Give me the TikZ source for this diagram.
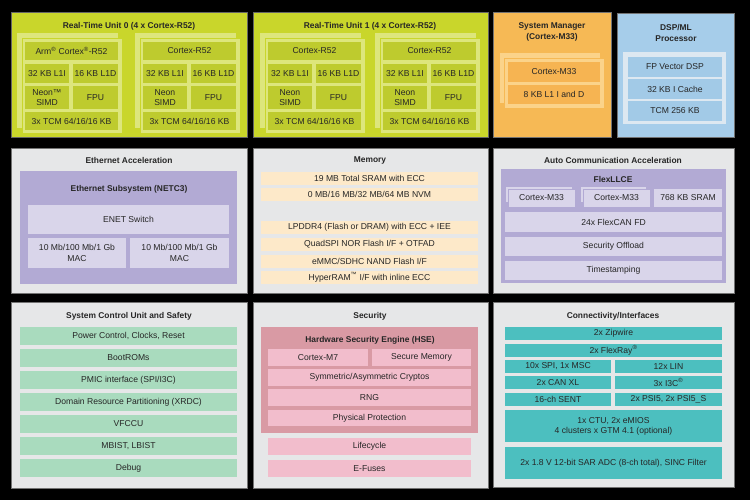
\documentclass[tikz,border=0pt]{standalone}
\usepackage{fontspec}
\setmainfont{Liberation Sans}
\begin{document}
\newcommand\bx[7]{\node[#2,minimum width={(#5)-(#3)},minimum height={(#6)-(#4)}] (#1) at ({((#3)+(#5))/2},{((#4)+(#6))/2}) {#7};}
\definecolor{yg}{HTML}{C9D62B}\definecolor{ygl}{HTML}{DDE67C}\definecolor{ygi}{HTML}{BECB2E}
\definecolor{org}{HTML}{F6B955}\definecolor{orgl}{HTML}{FBD38A}\definecolor{orgi}{HTML}{F6B452}
\definecolor{blu}{HTML}{A6CDEA}\definecolor{blul}{HTML}{DDE8F1}\definecolor{blui}{HTML}{A2CAE7}
\definecolor{gry}{HTML}{E6E7E8}\definecolor{pur}{HTML}{B2AAD4}\definecolor{purl}{HTML}{D9D5EA}
\definecolor{mem}{HTML}{FDE9C9}\definecolor{grn}{HTML}{A9DBBE}\definecolor{hse}{HTML}{D99AA4}
\definecolor{pnk}{HTML}{F2BDCC}\definecolor{teal}{HTML}{4CBFBF}
\begin{tikzpicture}[x=1pt,y=-1pt,
  every node/.style={inner sep=0pt,outer sep=0pt,align=center,font=\fontsize{8.6}{10.2}\selectfont,text=black!85},
  outer/.style={draw=black!55,line width=0.6pt},
  ttl/.style={font=\fontsize{8.4}{10.2}\selectfont\bfseries},
  ygo/.style={outer,fill=yg,draw=black!60},
  ygs/.style={fill=ygl},ygb/.style={fill=ygi},
  ors/.style={fill=orgl},orb/.style={fill=orgi},
  bls/.style={fill=blul},blb/.style={fill=blui},
  gbox/.style={outer,fill=gry},
  pbox/.style={fill=pur},pb/.style={fill=purl},
  mb/.style={fill=mem},gb/.style={fill=grn},
  hb/.style={fill=hse},kb/.style={fill=pnk},tb/.style={fill=teal}]
\fill[black] (0,0) rectangle (750,500);
% ---- RTU 0 / 1
\bx{rtu0}{ygo}{11}{12}{247}{137}{}
\node[ttl] (rtu0t) at (129,26) {Real-Time Unit 0 (4 x Cortex-R52)};
\bx{rtu1}{ygo}{253}{12}{488}{137}{}
\node[ttl] (rtu1t) at (370,26) {Real-Time Unit 1 (4 x Cortex-R52)};
\foreach \n/\x/\lab in {a/17/{Arm\textsuperscript{®} Cortex\textsuperscript{®}-R52},b/135/{Cortex-R52},c/260/{Cortex-R52},d/375/{Cortex-R52}}{
  \pgfmathsetmacro\xa{\x+5}\pgfmathsetmacro\xb{\x+105}\pgfmathsetmacro\xc{\x+101}
  \pgfmathsetmacro\ia{\x+8}\pgfmathsetmacro\ib{\x+101}\pgfmathsetmacro\im{\x+52}\pgfmathsetmacro\imm{\x+56}
  \bx{bk\n}{ygs}{\x}{33}{\xc}{128}{}
  \bx{fr\n}{ygs,draw=yg,line width=0.6pt}{\xa}{38}{\xb}{133}{}
  \bx{cr\n}{ygb}{\ia}{42}{\ib}{60}{\lab}
  \bx{li\n}{ygb}{\ia}{64}{\im}{83}{32 KB L1I}
  \bx{ld\n}{ygb}{\imm}{64}{\ib}{83}{16 KB L1D}
  \bx{ne\n}{ygb}{\ia}{86}{\im}{109}{}
  \bx{fp\n}{ygb}{\imm}{86}{\ib}{109}{FPU}
  \bx{tc\n}{ygb}{\ia}{112}{\ib}{130}{3x TCM 64/16/16 KB}
}
\node at (nea) {Neon™\\SIMD};
\foreach \n in {b,c,d}{\node at (ne\n) {Neon\\SIMD};}
% ---- System manager
\bx{sm}{outer,fill=org}{493}{12}{611}{137}{}
\node[ttl] (smt) at (552,32) {System Manager\\(Cortex-M33)};
\bx{smb}{ors}{500}{53}{600}{103}{}
\bx{smf}{ors,draw=org,line width=0.6pt}{504}{58}{604}{108}{}
\bx{smc}{orb}{508}{62}{600}{82}{Cortex-M33}
\bx{sml}{orb}{508}{85}{600}{104}{8 KB L1 I and D}
% ---- DSP
\bx{dsp}{outer,fill=blu}{617}{13}{734}{137}{}
\node[ttl] (dspt) at (676,33) {DSP/ML\\Processor};
\bx{dspf}{bls}{623}{52}{726}{124}{}
\bx{dsp1}{blb}{628}{57}{722}{77}{FP Vector DSP}
\bx{dsp2}{blb}{628}{79}{722}{99}{32 KB I Cache}
\bx{dsp3}{blb}{628}{101}{722}{121}{TCM 256 KB}
% ---- Ethernet
\bx{eth}{gbox}{11}{148}{247}{293}{}
\node[ttl] (etht) at (129,160) {Ethernet Acceleration};
\bx{ethp}{pbox}{20}{171}{237}{284}{}
\node[ttl] (ethpt) at (129,189) {Ethernet Subsystem (NETC3)};
\bx{enet}{pb}{28}{205}{229}{234}{ENET Switch}
\bx{mac1}{pb}{28}{238}{126}{268}{10 Mb/100 Mb/1 Gb\\MAC}
\bx{mac2}{pb}{130}{238}{229}{268}{10 Mb/100 Mb/1 Gb\\MAC}
% ---- Memory
\bx{mem}{gbox}{253}{148}{488}{293}{}
\node[ttl] (memt) at (370,160) {Memory};
\bx{m1}{mb}{261}{172}{478}{185}{19 MB Total SRAM with ECC}
\bx{m2}{mb}{261}{188}{478}{201}{0 MB/16 MB/32 MB/64 MB NVM}
\bx{m3}{mb}{261}{221}{478}{234}{LPDDR4 (Flash or DRAM) with ECC + IEE}
\bx{m4}{mb}{261}{238}{478}{251}{QuadSPI NOR Flash I/F + OTFAD}
\bx{m5}{mb}{261}{255}{478}{268}{eMMC/SDHC NAND Flash I/F}
\bx{m6}{mb}{261}{271}{478}{284}{HyperRAM\textsuperscript{™} I/F with inline ECC}
% ---- Auto comm
\bx{aca}{gbox}{493}{148}{734}{293}{}
\node[ttl] (acat) at (613,160) {Auto Communication Acceleration};
\bx{llce}{pbox}{501}{169}{726}{283}{}
\node[ttl] (llcet) at (613,179) {FlexLLCE};
\bx{lb1}{pb,draw=pur,line width=0.5pt}{505}{186}{572}{202}{}
\bx{lc1}{pb,draw=pur,line width=0.6pt}{508}{189}{575}{207}{Cortex-M33}
\bx{lb2}{pb,draw=pur,line width=0.5pt}{580}{186}{646}{202}{}
\bx{lc2}{pb,draw=pur,line width=0.6pt}{583}{189}{650}{207}{Cortex-M33}
\bx{lsr}{pb}{654}{189}{722}{207}{768 KB SRAM}
\bx{lcan}{pb}{505}{212}{722}{232}{24x FlexCAN FD}
\bx{lsec}{pb}{505}{237}{722}{256}{Security Offload}
\bx{lts}{pb}{505}{261}{722}{280}{Timestamping}
% ---- SCU
\bx{scu}{gbox}{11}{302}{247}{488}{}
\node[ttl] (scut) at (129,316) {System Control Unit and Safety};
\foreach \t [count=\i from 0] in {{Power Control, Clocks, Reset},BootROMs,{PMIC interface (SPI/I3C)},{Domain Resource Partitioning (XRDC)},VFCCU,{MBIST, LBIST},Debug}{
  \pgfmathsetmacro\ya{327+22*\i}\pgfmathsetmacro\yb{345+22*\i}
  \bx{s\i}{gb}{20}{\ya}{237}{\yb}{\t}}
% ---- Security
\bx{sec}{gbox}{253}{302}{488}{488}{}
\node[ttl] (sect) at (370,316) {Security};
\bx{hse}{hb}{261}{327}{478}{433}{}
\node[ttl] (hset) at (370,340) {Hardware Security Engine (HSE)};
\bx{m7}{kb}{268}{349}{368}{366}{Cortex-M7}
\bx{smem}{kb}{372}{349}{471}{366}{Secure Memory}
\bx{sym}{kb}{268}{369}{471}{386}{Symmetric/Asymmetric Cryptos}
\bx{rng}{kb}{268}{389}{471}{406}{RNG}
\bx{phy}{kb}{268}{410}{471}{426}{Physical Protection}
\bx{life}{kb}{268}{438}{471}{455}{Lifecycle}
\bx{fuse}{kb}{268}{460}{471}{477}{E-Fuses}
% ---- Connectivity
\bx{con}{gbox}{493}{302}{734}{487}{}
\node[ttl] (cont) at (613,316) {Connectivity/Interfaces};
\bx{c1}{tb}{505}{327}{722}{340}{2x Zipwire}
\bx{c2}{tb}{505}{344}{722}{357}{2x FlexRay\textsuperscript{®}}
\bx{c3}{tb}{505}{360}{611}{373}{10x SPI, 1x MSC}
\bx{c4}{tb}{615}{360}{722}{373}{12x LIN}
\bx{c5}{tb}{505}{376}{611}{389}{2x CAN XL}
\bx{c6}{tb}{615}{376}{722}{389}{3x I3C\textsuperscript{®}}
\bx{c7}{tb}{505}{393}{611}{406}{16-ch SENT}
\bx{c8}{tb}{615}{393}{722}{406}{2x PSI5, 2x PSI5\_S}
\bx{c9}{tb}{505}{410}{722}{442}{1x CTU, 2x eMIOS\\4 clusters x GTM 4.1 (optional)}
\bx{c10}{tb}{505}{447}{722}{479}{2x 1.8 V 12-bit SAR ADC (8-ch total), SINC Filter}
\end{tikzpicture}
\end{document}
